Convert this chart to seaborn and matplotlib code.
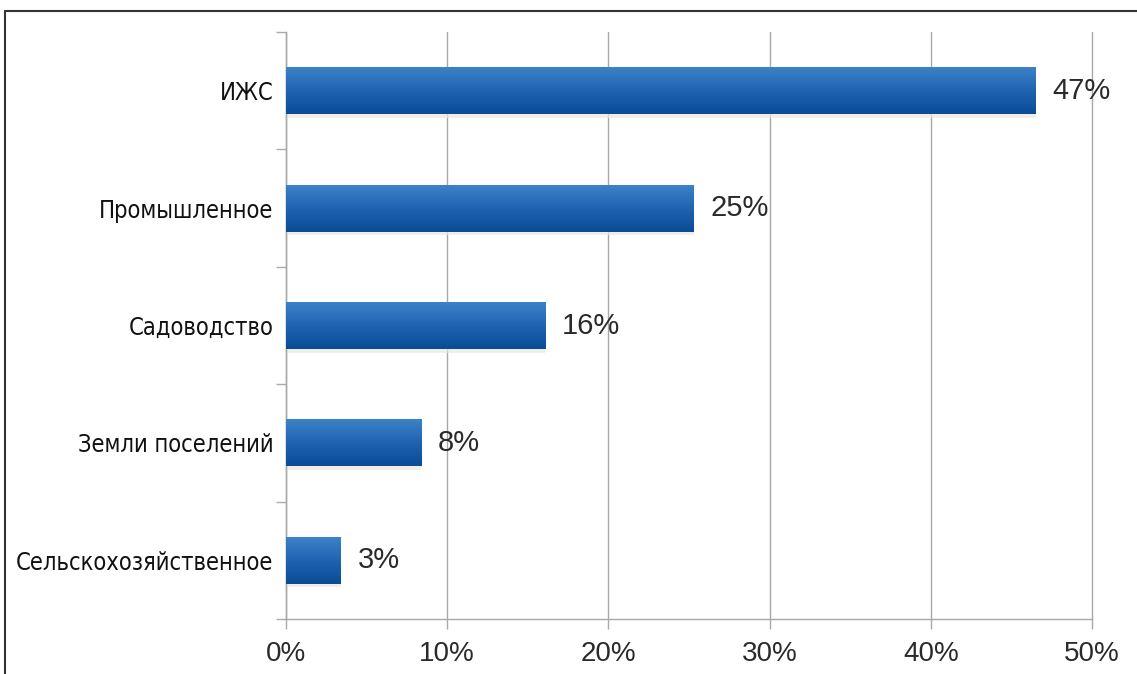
import numpy as np
import pandas as pd
import matplotlib
matplotlib.use("Agg")
import matplotlib.pyplot as plt
from matplotlib.lines import Line2D
from matplotlib.colors import LinearSegmentedColormap
import seaborn as sns

# Data
categories = ["ИЖС", "Промышленное", "Садоводство", "Земли поселений", "Сельскохозяйственное"]
shares = [46.5, 25.3, 16.1, 8.4, 3.4]
share_labels = ["47%", "25%", "16%", "8%", "3%"]
x_ticks = [0, 10, 20, 30, 40, 50]
x_tick_labels = ["0%", "10%", "20%", "30%", "40%", "50%"]

df = pd.DataFrame({"category": categories, "share": shares})

sns.set_theme(style="white")
plt.rcParams["font.family"] = ["Liberation Sans", "DejaVu Sans"]

fig = plt.figure(figsize=(11.37, 6.74), dpi=100)
ax = fig.add_axes([0.2515, 0.0816, 0.7089, 0.8709])

sns.barplot(data=df, x="share", y="category", orient="h", color="#1f5fa8",
            width=0.4, ax=ax)

# gradient fill for the bars (lighter top, darker bottom)
grad_cmap = LinearSegmentedColormap.from_list("bar", ["#3c82c8", "#1f64b0", "#0a4c96"])
grad = np.linspace(0, 1, 64).reshape(-1, 1)
for patch in ax.patches:
    x0, y0 = patch.get_x(), patch.get_y()
    w, h = patch.get_width(), patch.get_height()
    patch.set_visible(False)
    # faint shadow below the bar
    ax.fill_between([x0, x0 + w], y0 + h, y0 + h + 0.03, color="#ece8e0",
                    alpha=0.7, linewidth=0, zorder=2)
    ax.imshow(grad, cmap=grad_cmap, aspect="auto", interpolation="bicubic",
              extent=[x0, x0 + w, y0 + h, y0], zorder=3)

ax.set_xlim(0, 50)
ax.set_ylim(4.5, -0.5)

for i, (val, lab) in enumerate(zip(shares, share_labels)):
    ax.annotate(lab, xy=(val, i), xytext=(12, 0), textcoords="offset points",
                va="center", ha="left", fontsize=21, color="#2a2a2a",
                family=["Liberation Sans", "DejaVu Sans"])

# axes styling
ax.set_xticks(x_ticks)
ax.set_xticklabels(x_tick_labels, fontsize=20, color="#2a2a2a")
ax.set_yticks(range(len(categories)))
ax.set_yticklabels(categories, fontsize=17, color="#111111",
                   family=["DejaVu Sans"], fontstretch="condensed")
ax.set_yticks(np.arange(-0.5, len(categories), 1), minor=True)
ax.tick_params(axis="y", which="major", length=0, pad=9)
ax.tick_params(axis="y", which="minor", left=True, length=7, width=1, color="#aaaaaa")
ax.tick_params(axis="x", which="major", bottom=True, length=7, width=1,
               color="#aaaaaa", pad=9)
ax.set_xlabel("")
ax.set_ylabel("")

ax.grid(axis="x", color="#a8a8a8", linewidth=1)
for gl in ax.get_xgridlines():
    gl.set_clip_on(False)
ax.set_axisbelow(True)
for side in ["top", "right"]:
    ax.spines[side].set_visible(False)
for side in ["left", "bottom"]:
    ax.spines[side].set_color("#a8a8a8")
    ax.spines[side].set_linewidth(1)

# frame lines on left and top of the image
fig.add_artist(Line2D([5 / 1137, 5 / 1137], [0, 1 - 11 / 674],
                      transform=fig.transFigure, color="#333333", linewidth=1.5))
fig.add_artist(Line2D([5 / 1137, 1], [1 - 11 / 674, 1 - 11 / 674],
                      transform=fig.transFigure, color="#333333", linewidth=1.5))

fig.savefig("out.png", dpi=100)
